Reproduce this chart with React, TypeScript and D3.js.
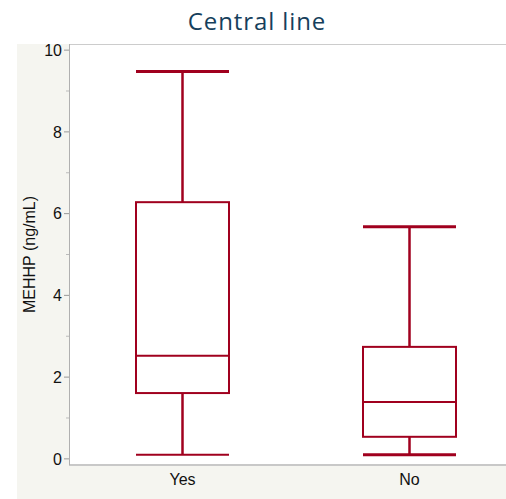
import React from "react";
import * as d3 from "d3";

const categories = ["Yes", "No"];
const whiskerLow = [0.1, 0.1];
const q1 = [1.61, 0.54];
const median = [2.52, 1.39];
const q3 = [6.28, 2.74];
const whiskerHigh = [9.48, 5.68];
const yTicks = [0, 2, 4, 6, 8, 10];
const yMinorTicks = [1, 3, 5, 7, 9];

const W = 506;
const H = 499;
const COLOR = "#a0001e";

export default function App() {
  const left = 69;
  const top = 44;
  const bottom = 465;
  const y = d3.scaleLinear().domain([-0.15, 10.15]).range([bottom, top]);
  const x = d3.scaleBand().domain(categories).range([left, left + 454]).paddingInner(0.6).paddingOuter(0.3);
  const bw = 93;
  return (
    <svg width={W} height={H} style={{ position: "absolute", left: 0, top: 0 }}>
      <rect x={0} y={0} width={W} height={H} fill="#ffffff" />
      <rect x={17} y={44} width={W - 17} height={H - 44} fill="#f5f5f0" />
      <rect x={left} y={top} width={W - left} height={bottom - top} fill="#ffffff" />
      <text x={257} y={30} textAnchor="middle" fontFamily="'Open Sans', sans-serif" fontSize={24} letterSpacing={0.9} fill="#163f5c">Central line</text>
      <line x1={left} x2={W} y1={top + 0.5} y2={top + 0.5} stroke="#cccccc" strokeWidth={1} />
      <line x1={left} x2={W} y1={bottom} y2={bottom} stroke="#c8c8c8" strokeWidth={2} />
      <line x1={left + 0.5} x2={left + 0.5} y1={top} y2={bottom} stroke="#b0b0b0" strokeWidth={1} />
      {yTicks.map((t) => (
        <g key={t}>
          <line x1={left - 5} x2={left} y1={y(t)} y2={y(t)} stroke="#999" strokeWidth={1} />
          <text x={left - 7} y={y(t)} dy="0.36em" textAnchor="end" fontFamily="'Liberation Sans', Arial, sans-serif" fontSize={16} fill="#111">{t}</text>
        </g>
      ))}
      {yMinorTicks.map((t) => (
        <line key={t} x1={left - 3} x2={left} y1={y(t)} y2={y(t)} stroke="#bbb" strokeWidth={1} />
      ))}
      <text transform={`translate(35,${(top + bottom) / 2}) rotate(-90)`} textAnchor="middle" fontFamily="'Liberation Sans', Arial, sans-serif" fontSize={16} fill="#111">MEHHP (ng/mL)</text>
      {categories.map((c, i) => {
        const cx = x(c)! + x.bandwidth() / 2;
        return (
          <g key={c}>
            <line x1={cx} x2={cx} y1={y(whiskerHigh[i])} y2={y(q3[i])} stroke={COLOR} strokeWidth={2.5} />
            <line x1={cx} x2={cx} y1={y(q1[i])} y2={y(whiskerLow[i])} stroke={COLOR} strokeWidth={2.5} />
            <line x1={cx - bw / 2} x2={cx + bw / 2} y1={y(whiskerHigh[i])} y2={y(whiskerHigh[i])} stroke={COLOR} strokeWidth={3} />
            <line x1={cx - bw / 2} x2={cx + bw / 2} y1={y(whiskerLow[i])} y2={y(whiskerLow[i])} stroke={COLOR} strokeWidth={i === 0 ? 2 : 3} />
            <rect x={cx - bw / 2} y={y(q3[i])} width={bw} height={y(q1[i]) - y(q3[i])} fill="none" stroke={COLOR} strokeWidth={2} />
            <line x1={cx - bw / 2} x2={cx + bw / 2} y1={y(median[i])} y2={y(median[i])} stroke={COLOR} strokeWidth={2} />
            <text x={cx} y={485} textAnchor="middle" fontFamily="'Liberation Sans', Arial, sans-serif" fontSize={16} fill="#111">{c}</text>
          </g>
        );
      })}
    </svg>
  );
}
